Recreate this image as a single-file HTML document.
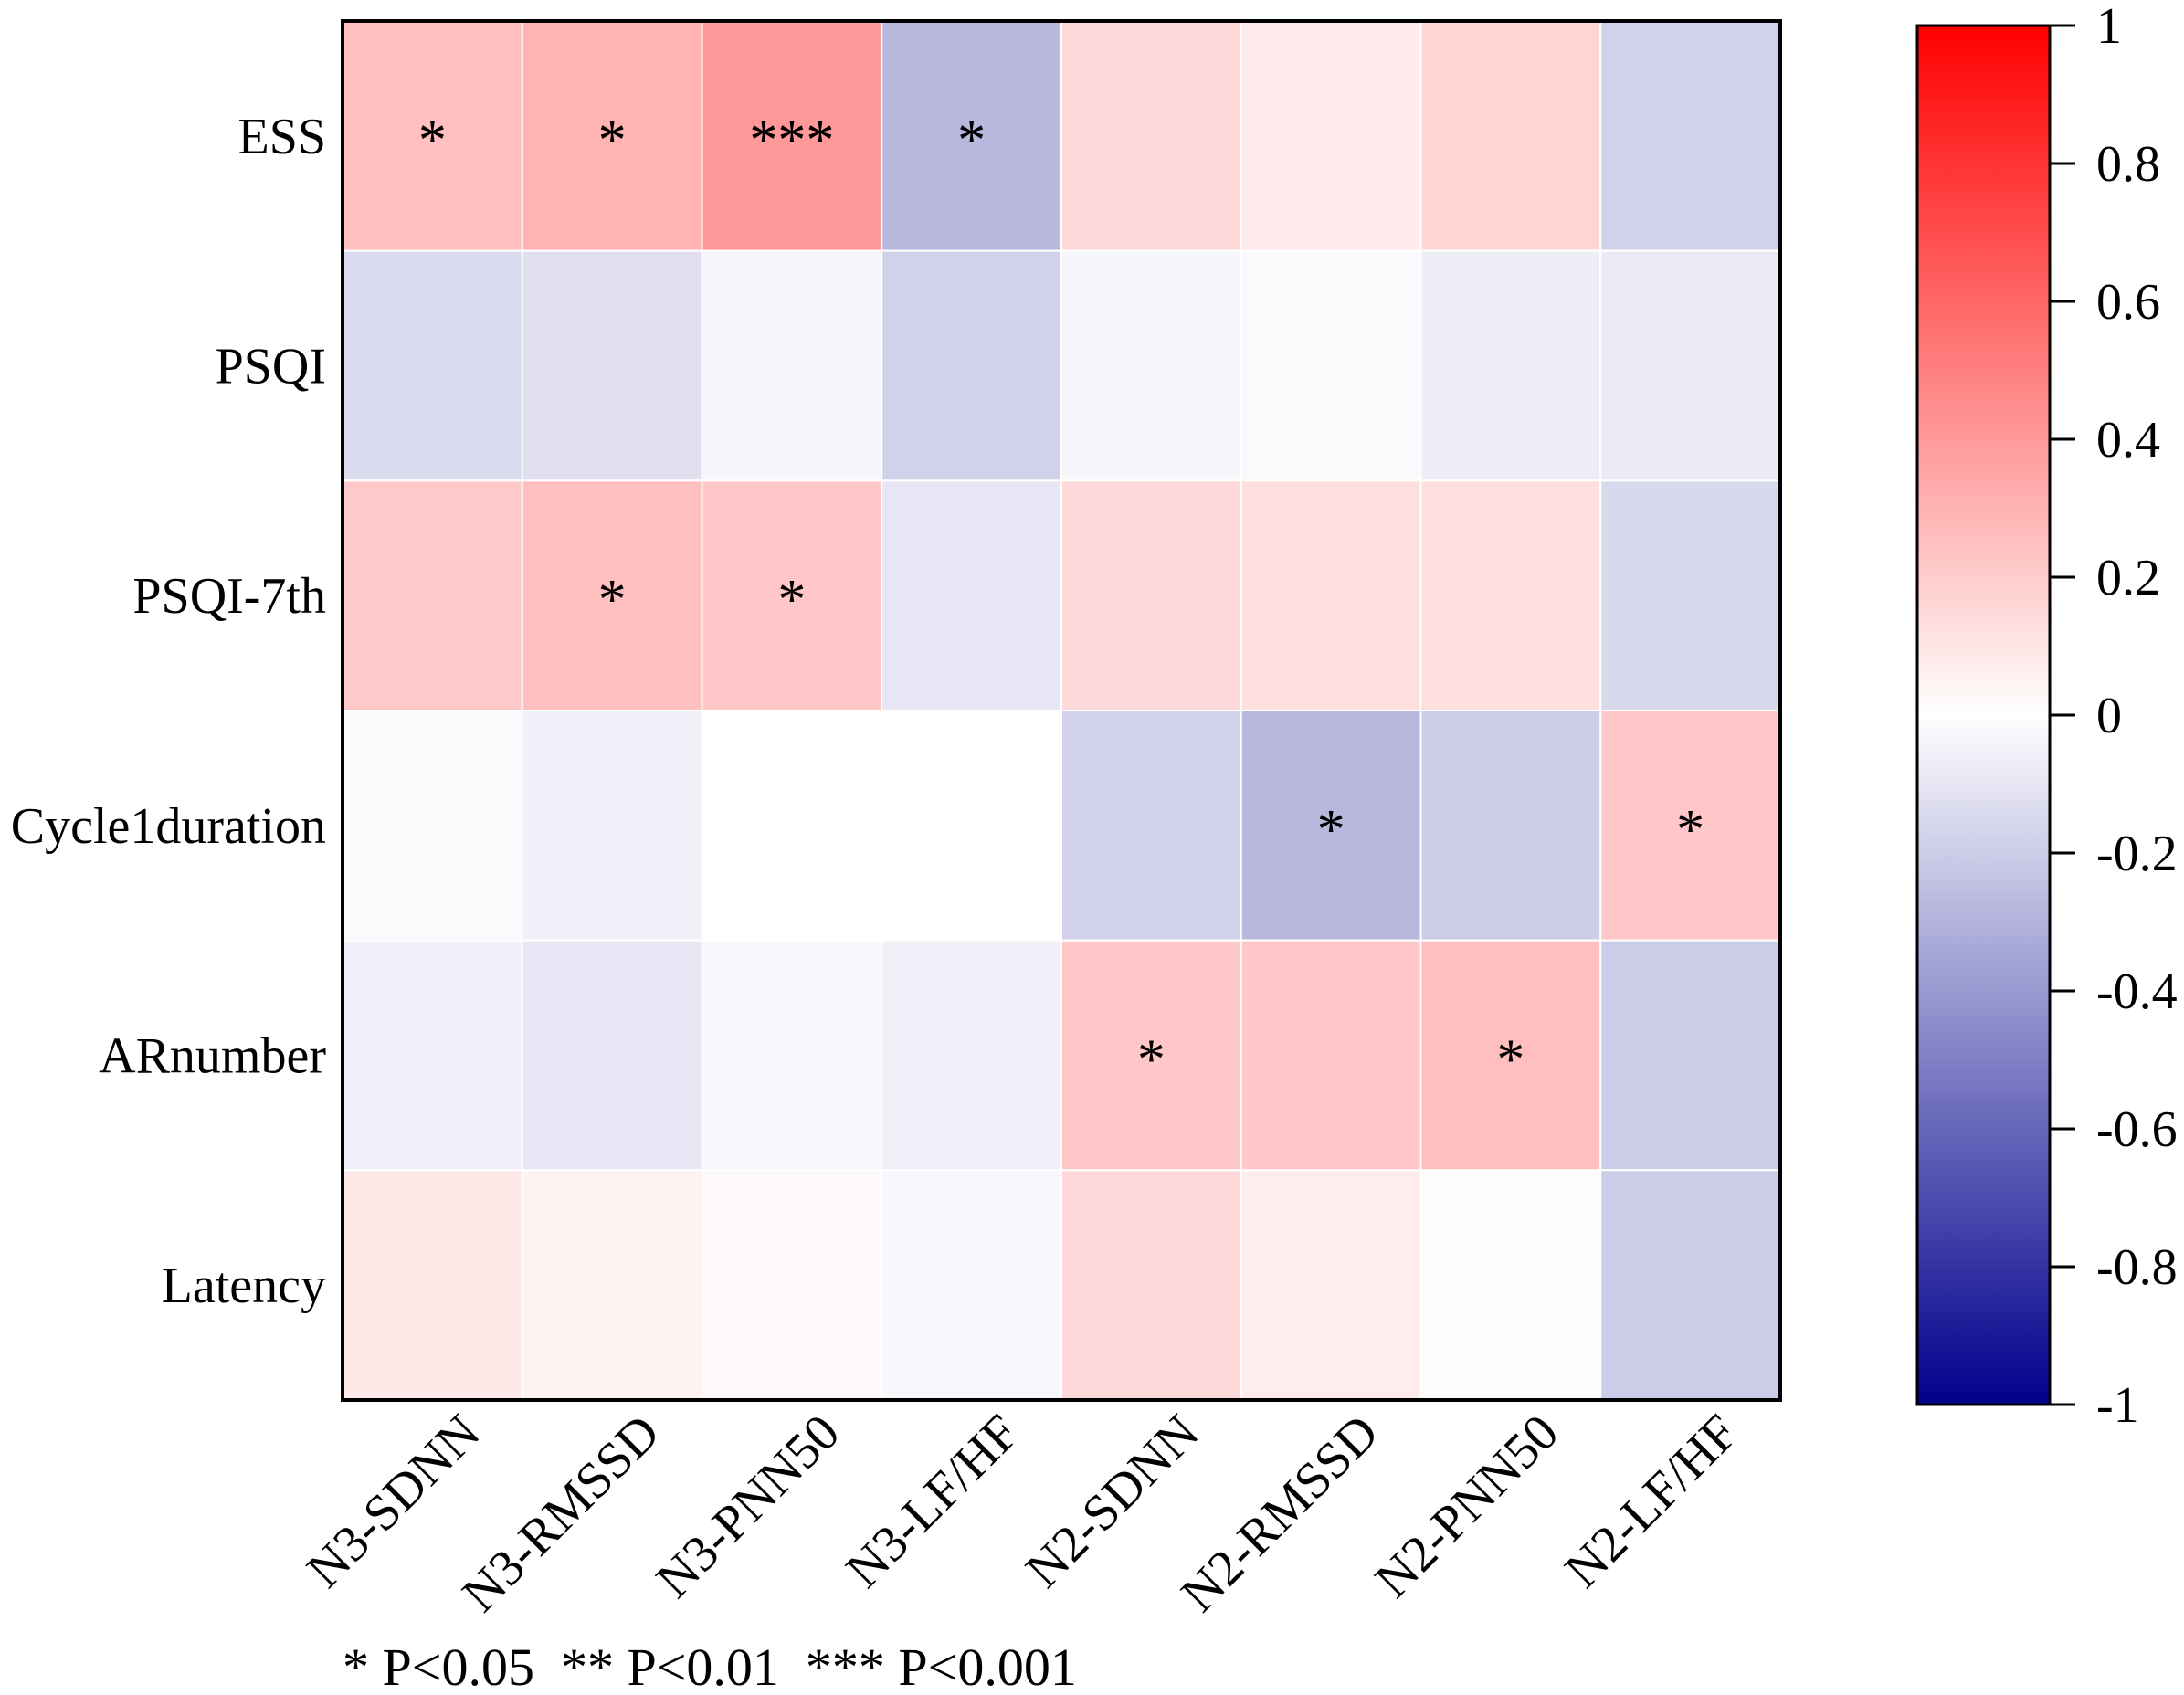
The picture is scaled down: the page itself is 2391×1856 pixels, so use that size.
<!DOCTYPE html>
<html><head><meta charset="utf-8"><style>
html,body{margin:0;padding:0;background:#fff;}
svg{display:block;font-family:"Liberation Serif","Times New Roman",serif;}
</style></head><body>
<svg id="chart" width="2391" height="1856" viewBox="0 0 2391 1856" xmlns="http://www.w3.org/2000/svg">
<defs>
<linearGradient id="cbgrad" x1="0" y1="0" x2="0" y2="1">
<stop offset="0" stop-color="rgb(255,0,0)"/>
<stop offset="0.5" stop-color="rgb(255,255,255)"/>
<stop offset="1" stop-color="rgb(0,0,140)"/>
</linearGradient>
</defs>
<g id="cells"></g>
<g id="stars"></g>
<rect x="375" y="23" width="1574" height="1510" fill="none" stroke="#000" stroke-width="4"/>
<g id="ylabels"></g>
<g id="xlabels"></g>
<g>
<rect x="2099" y="28" width="145" height="1510" fill="url(#cbgrad)" stroke="#000" stroke-width="3"/>
<g id="cbticks"></g>
</g>
<text x="375" y="1845" font-size="58" fill="#000" xml:space="preserve" style="white-space:pre">* P&lt;0.05  ** P&lt;0.01  *** P&lt;0.001</text>
</svg>
<script>
const rows = ["ESS","PSQI","PSQI-7th","Cycle1duration","ARnumber","Latency"];
const cols = ["N3-SDNN","N3-RMSSD","N3-PNN50","N3-LF/HF","N2-SDNN","N2-RMSSD","N2-PNN50","N2-LF/HF"];
const valESS = [0.25,0.30,0.40,-0.28,0.15,0.08,0.17,-0.18];
const valPSQI = [-0.14,-0.12,-0.04,-0.18,-0.04,-0.02,-0.07,-0.08];
const valPSQI7 = [0.21,0.25,0.22,-0.10,0.15,0.13,0.13,-0.15];
const valCycle = [-0.02,-0.06,0.0,0.0,-0.18,-0.28,-0.20,0.22];
const valAR = [-0.06,-0.10,-0.03,-0.06,0.22,0.22,0.25,-0.20];
const valLatency = [0.09,0.05,0.02,-0.03,0.15,0.07,0.01,-0.20];
const starsESS = [1,1,3,1,0,0,0,0];
const starsPSQI = [0,0,0,0,0,0,0,0];
const starsPSQI7 = [0,1,1,0,0,0,0,0];
const starsCycle = [0,0,0,0,0,1,0,1];
const starsAR = [0,0,0,0,1,0,1,0];
const starsLatency = [0,0,0,0,0,0,0,0];
const cbTicks = [1,0.8,0.6,0.4,0.2,0,-0.2,-0.4,-0.6,-0.8,-1];
const cbTickLabels = ["1","0.8","0.6","0.4","0.2","0","-0.2","-0.4","-0.6","-0.8","-1"];

const values = [valESS,valPSQI,valPSQI7,valCycle,valAR,valLatency];
const stars = [starsESS,starsPSQI,starsPSQI7,starsCycle,starsAR,starsLatency];
const NS="http://www.w3.org/2000/svg";
const PX0=375, PX1=1949, PY0=23, PY1=1533;
const cw=(PX1-PX0)/cols.length, ch=(PY1-PY0)/rows.length;
function xPos(i){return PX0+i*cw;}
function yPos(j){return PY0+j*ch;}
const CB_TOP=28, CB_BOT=1538;
function cbY(v){return CB_TOP+(1-v)/2*(CB_BOT-CB_TOP);}
function color(v){
  v=Math.max(-1,Math.min(1,v));
  if(v>=0){const g=Math.round(255*(1-v));return `rgb(255,${g},${g})`;}
  const a=-v;return `rgb(${Math.round(255*(1-a))},${Math.round(255*(1-a))},${Math.round(255-115*a)})`;
}
function mk(tag,attrs,parent){const e=document.createElementNS(NS,tag);for(const k in attrs)e.setAttribute(k,attrs[k]);parent.appendChild(e);return e;}
const gC=document.getElementById('cells'), gS=document.getElementById('stars');
values.forEach((row,j)=>row.forEach((v,i)=>{
  const r=mk('rect',{x:xPos(i),y:yPos(j),width:cw,height:ch,fill:color(v),stroke:'#fff','stroke-width':2},gC);
  
  
  const n=stars[j][i];
  if(n>0){
    const t=mk('text',{x:xPos(i)+cw/2,y:yPos(j)+ch/2+25,'text-anchor':'middle','font-size':62,fill:'#000'},gS);
    t.textContent='*'.repeat(n);
    
    
  }
}));
const gY=document.getElementById('ylabels');
rows.forEach((name,j)=>{
  const t=mk('text',{x:357,y:yPos(j)+ch/2+19,'text-anchor':'end','font-size':56,fill:'#000'},gY);
  t.textContent=name;
  
  
});
const gX=document.getElementById('xlabels');
cols.forEach((name,i)=>{
  const x=xPos(i)+cw/2+55, y=1572;
  const t=mk('text',{x:x,y:y,'text-anchor':'end','font-size':56,fill:'#000',transform:`rotate(-45 ${x} ${y})`},gX);
  t.textContent=name;
  
  
});
const gT=document.getElementById('cbticks');
cbTicks.forEach((v,k)=>{
  const y=cbY(v);
  const l=mk('line',{x1:2244,x2:2272,y1:y,y2:y,stroke:'#000','stroke-width':3},gT);
  
  
  const t=mk('text',{x:2295,y:y+19,'font-size':56,fill:'#000'},gT);
  t.textContent=cbTickLabels[k];
  
  
});
</script>
</body></html>
